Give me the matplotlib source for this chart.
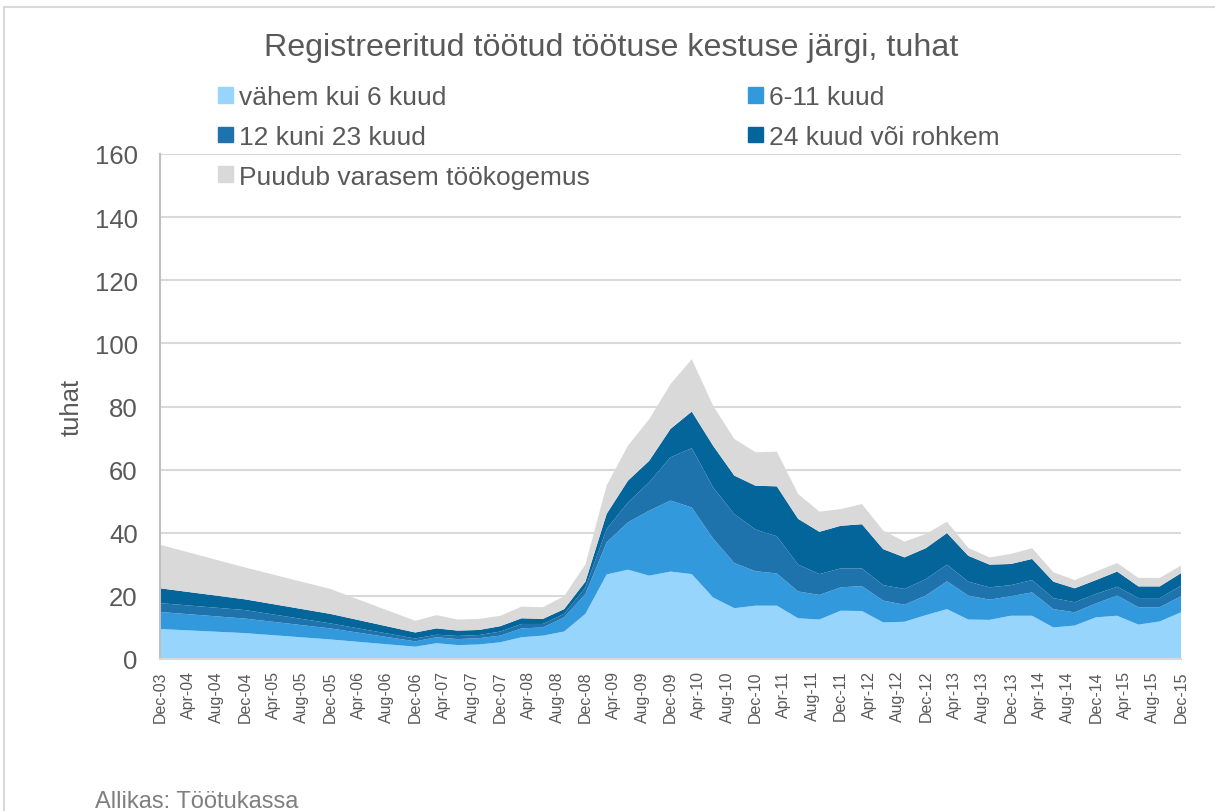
import matplotlib
matplotlib.use("Agg")
import matplotlib.pyplot as plt
import matplotlib.patches as mpatches
import pandas as pd

plt.rcParams['font.family'] = ['Liberation Sans', 'DejaVu Sans']

# andmepunktid: aastalõpud 2003-2006, edasi kvartalite kaupa
kuupaevad = ["2003-12", "2004-12", "2005-12", "2006-12",
             "2007-03", "2007-06", "2007-09", "2007-12",
             "2008-03", "2008-06", "2008-09", "2008-12",
             "2009-03", "2009-06", "2009-09", "2009-12",
             "2010-03", "2010-06", "2010-09", "2010-12",
             "2011-03", "2011-06", "2011-09", "2011-12",
             "2012-03", "2012-06", "2012-09", "2012-12",
             "2013-03", "2013-06", "2013-09", "2013-12",
             "2014-03", "2014-06", "2014-09", "2014-12",
             "2015-03", "2015-06", "2015-09", "2015-12"]

alla_6 = [9.5, 8.2, 6.2, 3.9, 5.0, 4.4, 4.6, 5.3, 6.9, 7.4, 8.7, 14.3,
          26.8, 28.3, 26.4, 27.7, 26.9, 19.5, 16.1, 16.9, 16.9, 12.9, 12.5, 15.3,
          15.2, 11.6, 11.8, 13.9, 15.8, 12.5, 12.4, 13.7, 13.7, 10.0, 10.6, 13.2,
          13.7, 10.9, 11.9, 14.8]
kuud_6_11 = [5.4, 4.6, 3.5, 1.7, 1.9, 1.9, 2.0, 2.1, 2.8, 2.6, 4.5, 6.3,
             10.2, 15.0, 20.6, 22.5, 21.1, 18.7, 14.3, 10.9, 10.2, 8.5, 7.8, 7.4,
             7.9, 6.9, 5.4, 6.2, 8.8, 7.6, 6.4, 6.2, 7.4, 5.8, 4.2, 4.4,
             6.4, 5.5, 4.5, 5.1]
kuud_12_23 = [2.8, 2.7, 1.6, 0.9, 0.8, 1.0, 1.0, 1.3, 1.4, 1.1, 1.1, 2.1,
              4.2, 6.3, 9.0, 13.7, 18.8, 16.2, 15.5, 13.2, 11.8, 8.5, 6.6, 6.0,
              5.6, 4.9, 5.0, 5.2, 5.3, 4.4, 3.9, 3.5, 3.9, 3.5, 3.2, 3.0,
              2.8, 2.9, 2.9, 3.3]
yle_24 = [4.7, 3.4, 3.0, 1.9, 2.0, 1.7, 1.6, 1.7, 1.8, 1.6, 1.5, 1.8,
          4.8, 6.9, 6.8, 9.0, 11.6, 13.2, 12.2, 13.9, 15.8, 14.5, 13.4, 13.5,
          14.0, 11.4, 10.0, 9.8, 10.0, 8.2, 7.2, 6.7, 6.7, 5.2, 4.4, 4.4,
          4.8, 3.7, 3.7, 4.0]
puudub = [13.8, 10.1, 7.9, 3.7, 4.2, 3.5, 3.5, 3.3, 3.7, 3.7, 4.1, 5.5,
          9.0, 11.1, 13.2, 14.2, 16.6, 12.7, 11.6, 10.6, 11.0, 7.9, 6.4, 5.3,
          6.4, 5.9, 5.0, 4.5, 3.6, 2.5, 2.3, 3.2, 3.4, 3.0, 2.6, 2.7,
          2.7, 2.7, 2.7, 2.4]

nimed = ["vähem kui 6 kuud", "6-11 kuud", "12 kuni 23 kuud",
         "24 kuud või rohkem", "Puudub varasem töökogemus"]
varvid = ["#97d5fc", "#3399dd", "#1f73ad", "#03659a", "#d9d9d9"]

# kuud alates dets 2003
kp = pd.to_datetime(kuupaevad)
x = [(d.year - 2003) * 12 + d.month - 12 for d in kp]
tikid = pd.date_range("2003-12-01", "2015-12-01", freq="4MS")
tiki_x = [(d.year - 2003) * 12 + d.month - 12 for d in tikid]
tiki_sildid = [d.strftime("%b-%y") for d in tikid]

fig = plt.figure(figsize=(12.15, 8.12), dpi=100)
ax = fig.add_axes([160 / 1215, 1 - 660 / 812, 1021 / 1215, 505 / 812])

ax.stackplot(x, alla_6, kuud_6_11, kuud_12_23, yle_24, puudub,
             colors=varvid, linewidth=0, zorder=2)

ax.set_xlim(0, 144)
ax.set_ylim(0, 160)
ax.set_yticks(range(0, 161, 20))
ax.set_xticks(tiki_x)
ax.set_xticklabels(tiki_sildid, rotation=90, fontsize=11.5, color="#595959")
ax.tick_params(axis="y", length=0, pad=16, labelsize=18.5, labelcolor="#595959")
ax.tick_params(axis="x", length=0, pad=8)
ax.grid(axis="y", color="#d9d9d9", linewidth=1.5, zorder=0)
ax.set_axisbelow(True)
for s in ["top", "right"]:
    ax.spines[s].set_visible(False)
for s in ["left", "bottom"]:
    ax.spines[s].set_color("#bfbfbf")
    ax.spines[s].set_linewidth(1.5)
ax.spines["bottom"].set_color("#d9d9d9")

fig.text(72 / 1215, 1 - 407 / 812, "tuhat", rotation=90, fontsize=18.5,
         color="#595959", ha="center", va="center")

fig.text(611 / 1215, 1 - 48 / 812,
         "Registreeritud töötud töötuse kestuse järgi, tuhat",
         fontsize=23.2, color="#595959", ha="center", va="center")

# legend: veeru kaupa täitmine -> järjekord
kord = [0, 2, 4, 1, 3]
kastid = [mpatches.Patch(color=varvid[i], label=nimed[i]) for i in kord]
fig.legend(handles=kastid, loc="upper left",
           bbox_to_anchor=(218 / 1215, 1 - 86 / 812), ncol=2, frameon=False,
           fontsize=19, labelcolor="#595959", handlelength=0.55,
           handleheight=0.55, handletextpad=0.25, labelspacing=0.6,
           columnspacing=6.0, borderpad=0, borderaxespad=0)

fig.text(95 / 1215, 1 - 791 / 812, "Allikas: Töötukassa", fontsize=17,
         color="#7f7f7f", ha="left", va="top")

fig.patches.append(mpatches.Rectangle((4 / 1215, -0.1), 1.2, 1 - 8 / 812 + 0.1,
                                      transform=fig.transFigure, fill=False,
                                      edgecolor="#d9d9d9", linewidth=1.5))

fig.savefig("out.png", dpi=100)
